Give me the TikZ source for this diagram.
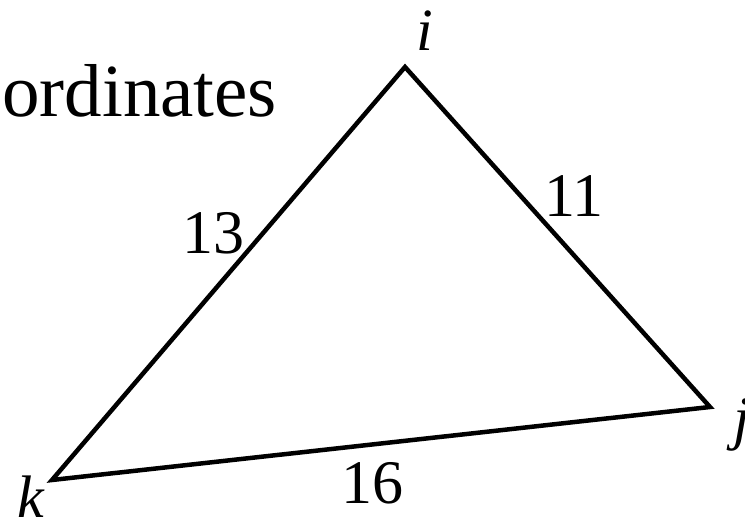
\documentclass[tikz,border=0pt]{standalone}
\usepackage{fontspec}
\setmainfont{Liberation Serif}
\usetikzlibrary{positioning}
\tikzset{
  side/.style={line width=4.5pt, line join=miter},
  vlabel/.style={font=\fontsize{60}{60}\selectfont\itshape, inner sep=0pt},
  len/.style={font=\fontsize{62}{64}\selectfont, inner sep=0pt},
}

\begin{document}
\begin{tikzpicture}[x=1pt,y=-1pt]
  \clip (0,0) rectangle (745,519);

  % corners of the triangle
  \coordinate (I) at (405,67);
  \coordinate (J) at (710,407);
  \coordinate (K) at (52,480);

  \draw[side] (I) -- (J) -- (K) -- cycle;

  % vertex names
  \node[vlabel] (i) at (425,31) {i};
  \node[vlabel] (j) at (742,425) {j};
  \node[vlabel] (k) at (31,497) {k};

  % side lengths
  \node[len] (ik) at (213,233) {13};
  \node[len] (ij) at (574,196) {11};
  \node[len] (jk) at (372,483) {16};

  % cut-off heading
  \node[font=\fontsize{75}{80}\selectfont, anchor=base west, inner sep=0pt] (head) at (2,117) {ordinates};
\end{tikzpicture}
\end{document}
